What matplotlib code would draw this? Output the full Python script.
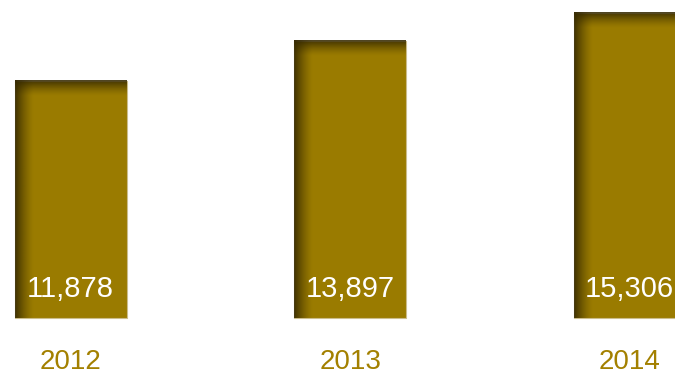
import numpy as np
import matplotlib
matplotlib.use("Agg")
import matplotlib.pyplot as plt
from matplotlib import font_manager

years = ["2012", "2013", "2014"]
values = [11878, 13897, 15306]

BAR_COLOR = "#9a7b00"
SHADOW_RGB = (0.2, 0.155, 0.0)
EDGE_COLOR = "#cbbd8c"
YEAR_COLOR = "#a38000"

available = {f.name for f in font_manager.fontManager.ttflist}
family = [f for f in ["Liberation Sans Narrow", "Arial Narrow", "Liberation Sans"] if f in available] or ["DejaVu Sans"]

W, H, DPI = 675, 374, 100
fig = plt.figure(figsize=(W / DPI, H / DPI), dpi=DPI)
ax = fig.add_axes([0, 0, 1, 1])
ax.set_axis_off()

px_per_unit = 0.01997       # vertical pixels per data unit
base_px = 318.3             # baseline, pixels from top
step_px = 279.5             # spacing between bar centres
first_px = 70.7             # first bar centre
bar_w = 0.4

x = np.arange(len(values))
ax.bar(x, values, width=bar_w, color=BAR_COLOR, edgecolor=EDGE_COLOR, linewidth=0.8, zorder=2)

# soft inner shadow along the top and left edges of each bar
for xi, v in zip(x, values):
    wpx = int(round(bar_w * step_px))
    hpx = int(round(v * px_per_unit))
    yy, xx = np.mgrid[0:hpx, 0:wpx] + 0.5
    top = 0.9 * np.clip(1 - yy / 16.0, 0, 1) ** 1.4
    left = 0.9 * np.clip(1 - xx / 19.0, 0, 1) ** 1.4
    alpha = 1 - (1 - top) * (1 - left)
    img = np.zeros((hpx, wpx, 4))
    img[..., 0], img[..., 1], img[..., 2] = SHADOW_RGB
    img[..., 3] = alpha
    ax.imshow(img, extent=(xi - bar_w / 2, xi + bar_w / 2, 0, v), origin="upper",
              aspect="auto", interpolation="bilinear", zorder=3)

for xi, v, yr in zip(x, values, years):
    ax.annotate(f"{v:,}", (xi, 0), xytext=(0, 21), textcoords="offset pixels",
                ha="center", va="baseline", color="white", fontsize=21,
                family=family, zorder=4)
    ax.annotate(yr, (xi, 0), xytext=(0, -50.5), textcoords="offset pixels",
                ha="center", va="baseline", color=YEAR_COLOR, fontsize=20,
                family=family, zorder=4, annotation_clip=False)

ax.set_xlim(-first_px / step_px, (W - first_px) / step_px)
ax.set_ylim(-(H - base_px) / px_per_unit, base_px / px_per_unit)

fig.savefig("out.png", dpi=DPI)
